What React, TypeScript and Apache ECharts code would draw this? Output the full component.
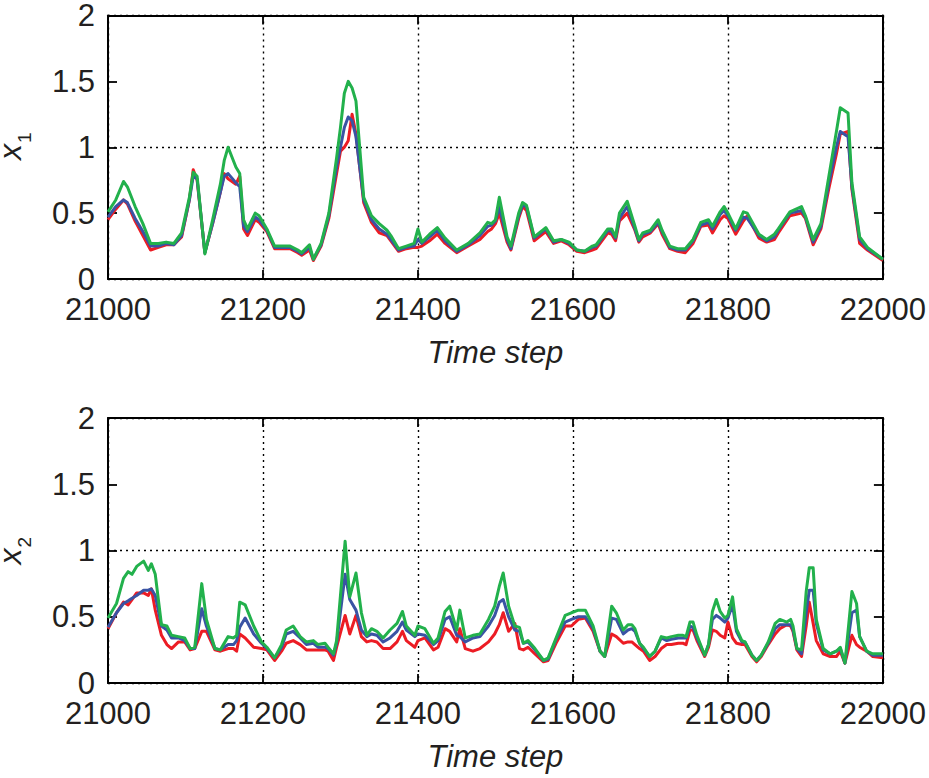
import React, { useEffect, useRef } from "react";
import * as echarts from "echarts";

// ---------- data ----------
const TOP_T = [
  21000, 21010, 21020, 21025, 21035, 21045, 21055, 21065, 21075, 21085,
  21095, 21105, 21110, 21115, 21125, 21135, 21145, 21150, 21155, 21165,
  21170, 21175, 21180, 21190, 21195, 21205, 21215, 21225, 21235, 21245,
  21250, 21260, 21265, 21275, 21285, 21295, 21300, 21305, 21310, 21315,
  21320, 21330, 21340, 21350, 21360, 21365, 21375, 21385, 21395, 21400,
  21405, 21415, 21425, 21435, 21450, 21465, 21480, 21490, 21495, 21500,
  21505, 21515, 21520, 21530, 21535, 21540, 21550, 21565, 21575, 21585,
  21595, 21605, 21615, 21625, 21630, 21645, 21650, 21655, 21660, 21670,
  21680, 21685, 21690, 21700, 21710, 21715, 21725, 21735, 21745, 21755,
  21765, 21775, 21780, 21790, 21795, 21800, 21810, 21820, 21825, 21840,
  21850, 21860, 21865, 21880, 21895, 21900, 21910, 21920, 21930, 21940,
  21945, 21955, 21960, 21970, 21980, 22000,
];
const TOP_GREEN = [
  0.51, 0.6, 0.74, 0.7, 0.55, 0.42, 0.27, 0.27, 0.28, 0.27,
  0.35, 0.62, 0.81, 0.78, 0.19, 0.45, 0.72, 0.9, 1.0, 0.85,
  0.8, 0.45, 0.38, 0.5, 0.48, 0.38, 0.25, 0.25, 0.25, 0.22,
  0.2, 0.26, 0.15, 0.27, 0.5, 0.92, 1.15, 1.41, 1.5, 1.45,
  1.35, 0.62, 0.48, 0.42, 0.37, 0.33, 0.23, 0.25, 0.27, 0.38,
  0.28, 0.34, 0.39, 0.31, 0.22, 0.27, 0.35, 0.43, 0.42, 0.45,
  0.62, 0.32, 0.25, 0.5, 0.58, 0.56, 0.32, 0.39, 0.29, 0.3,
  0.28, 0.22, 0.21, 0.25, 0.26, 0.38, 0.38, 0.32, 0.5, 0.59,
  0.4, 0.3, 0.35, 0.37, 0.45, 0.37, 0.25, 0.23, 0.23, 0.3,
  0.43, 0.45, 0.4, 0.51, 0.55, 0.5, 0.38, 0.51, 0.5, 0.34,
  0.3, 0.34, 0.38, 0.51, 0.55, 0.48, 0.3, 0.42, 0.77, 1.12,
  1.3, 1.26, 0.73, 0.32, 0.24, 0.15,
];
const TOP_BLUE = [
  0.47, 0.55, 0.6, 0.58, 0.46, 0.36, 0.25, 0.25, 0.27, 0.26,
  0.33, 0.6, 0.78, 0.76, 0.2, 0.42, 0.66, 0.78, 0.8, 0.73,
  0.7, 0.4, 0.36, 0.47, 0.45, 0.37, 0.24, 0.24, 0.24, 0.21,
  0.19, 0.24, 0.15, 0.26, 0.48, 0.85, 1.0, 1.15, 1.23, 1.2,
  1.08, 0.6, 0.45, 0.38, 0.34, 0.3, 0.22, 0.24, 0.25, 0.3,
  0.27, 0.32, 0.37, 0.29, 0.21, 0.26, 0.33, 0.4, 0.41, 0.44,
  0.55, 0.3, 0.23, 0.48, 0.56, 0.55, 0.31, 0.38, 0.28, 0.3,
  0.27, 0.22, 0.21, 0.24, 0.25, 0.37, 0.36, 0.31, 0.46, 0.55,
  0.38, 0.29, 0.34, 0.36, 0.43, 0.36, 0.24, 0.22, 0.22, 0.29,
  0.41, 0.43, 0.38, 0.49, 0.52, 0.48, 0.37, 0.47, 0.46, 0.33,
  0.29, 0.32, 0.37, 0.5, 0.52, 0.47, 0.28, 0.4, 0.72, 1.0,
  1.12, 1.08, 0.7, 0.3, 0.23, 0.15,
];
const TOP_RED = [
  0.45, 0.53, 0.6, 0.57, 0.44, 0.33, 0.22, 0.24, 0.26, 0.26,
  0.32, 0.6, 0.83, 0.75, 0.2, 0.42, 0.66, 0.8, 0.76, 0.72,
  0.78, 0.38, 0.33, 0.45, 0.43, 0.36, 0.23, 0.23, 0.23, 0.2,
  0.18, 0.22, 0.14, 0.25, 0.46, 0.8, 0.97, 1.0, 1.05, 1.25,
  1.1, 0.58, 0.43, 0.35, 0.33, 0.29, 0.21, 0.23, 0.24, 0.24,
  0.25, 0.29, 0.34, 0.27, 0.2, 0.25, 0.3, 0.36, 0.38, 0.42,
  0.5, 0.28, 0.22, 0.46, 0.55, 0.52, 0.29, 0.36, 0.27, 0.29,
  0.26, 0.21, 0.2, 0.22, 0.23, 0.35, 0.34, 0.29, 0.44, 0.5,
  0.37, 0.28, 0.32, 0.35, 0.42, 0.34, 0.23, 0.21, 0.2, 0.27,
  0.4, 0.41, 0.35, 0.45, 0.48, 0.46, 0.34, 0.44, 0.48, 0.31,
  0.28, 0.3, 0.35, 0.48, 0.5, 0.46, 0.26, 0.38, 0.68, 0.95,
  1.1, 1.12, 0.68, 0.27, 0.22, 0.14,
];

const BOT_T = [
  21000, 21011, 21020, 21026, 21031, 21037, 21046, 21052, 21056, 21061,
  21069, 21076, 21082, 21091, 21099, 21106, 21112, 21121, 21127, 21138,
  21145, 21155, 21162, 21166, 21170, 21177, 21188, 21198, 21205, 21215,
  21224, 21230, 21239, 21248, 21256, 21265, 21271, 21280, 21284, 21291,
  21295, 21306, 21312, 21320, 21327, 21334, 21340, 21347, 21355, 21364,
  21373, 21380, 21385, 21396, 21400, 21409, 21420, 21426, 21435, 21441,
  21450, 21454, 21461, 21471, 21480, 21491, 21499, 21505, 21510, 21517,
  21525, 21531, 21536, 21542, 21551, 21562, 21568, 21579, 21590, 21598,
  21607, 21616, 21626, 21635, 21641, 21650, 21656, 21665, 21671, 21676,
  21680, 21686, 21691, 21699, 21706, 21714, 21721, 21727, 21736, 21742,
  21746, 21751, 21755, 21760, 21770, 21775, 21780, 21785, 21790, 21796,
  21800, 21806, 21811, 21818, 21822, 21831, 21837, 21843, 21852, 21861,
  21867, 21876, 21881, 21884, 21889, 21895, 21901, 21905, 21910, 21914,
  21923, 21932, 21940, 21945, 21951, 21960, 21966, 21970, 21979, 21987,
  22000,
];
const BOT_GREEN = [
  0.49, 0.6, 0.79, 0.84, 0.82, 0.88, 0.92, 0.85, 0.9, 0.82,
  0.44, 0.43, 0.36, 0.35, 0.34, 0.26, 0.27, 0.75, 0.48, 0.26,
  0.25, 0.35, 0.34, 0.36, 0.61, 0.59, 0.43, 0.31, 0.27, 0.19,
  0.29, 0.4, 0.43, 0.35, 0.31, 0.32, 0.29, 0.3, 0.27, 0.22,
  0.32, 1.07, 0.65, 0.83, 0.53, 0.36, 0.41, 0.39, 0.34, 0.4,
  0.45, 0.54, 0.43, 0.36, 0.43, 0.41, 0.3, 0.34, 0.54, 0.58,
  0.4, 0.55, 0.34, 0.36, 0.37, 0.48, 0.58, 0.73, 0.83, 0.58,
  0.43, 0.42, 0.3, 0.32, 0.26, 0.17, 0.19, 0.35, 0.51, 0.53,
  0.55, 0.55, 0.43, 0.24, 0.2, 0.58, 0.53, 0.4, 0.44, 0.44,
  0.41, 0.3, 0.27, 0.2, 0.24, 0.35, 0.34, 0.35, 0.36, 0.36,
  0.35, 0.46, 0.46, 0.36, 0.21, 0.29, 0.54, 0.63, 0.54, 0.49,
  0.51, 0.65, 0.41, 0.32, 0.31, 0.21, 0.17, 0.21, 0.31, 0.45,
  0.48, 0.46, 0.48, 0.43, 0.26, 0.25, 0.69, 0.87, 0.87, 0.48,
  0.26, 0.22, 0.24, 0.27, 0.15, 0.69, 0.6, 0.35, 0.24, 0.22,
  0.22,
];
const BOT_BLUE = [
  0.42, 0.53, 0.6, 0.62, 0.64, 0.66, 0.7, 0.7, 0.71, 0.66,
  0.43, 0.4, 0.34, 0.34, 0.32, 0.26, 0.26, 0.56, 0.43, 0.26,
  0.25, 0.29, 0.29, 0.32, 0.42, 0.49, 0.37, 0.3, 0.26, 0.19,
  0.27, 0.37, 0.39, 0.34, 0.29, 0.3, 0.27, 0.27, 0.26, 0.21,
  0.3, 0.82, 0.63, 0.55, 0.4, 0.35, 0.37, 0.36, 0.31, 0.34,
  0.39, 0.46, 0.4, 0.35, 0.37, 0.36, 0.29, 0.32, 0.48, 0.5,
  0.36, 0.35, 0.31, 0.34, 0.35, 0.43, 0.51, 0.61, 0.63, 0.5,
  0.4, 0.39, 0.3, 0.31, 0.25, 0.17, 0.18, 0.34, 0.46, 0.48,
  0.5, 0.5, 0.41, 0.24, 0.2, 0.49, 0.48, 0.37, 0.4, 0.41,
  0.39, 0.3, 0.26, 0.2, 0.24, 0.34, 0.32, 0.33, 0.34, 0.34,
  0.34, 0.43, 0.42, 0.34, 0.21, 0.29, 0.48, 0.51, 0.49, 0.46,
  0.49, 0.59, 0.39, 0.31, 0.31, 0.21, 0.17, 0.21, 0.3, 0.41,
  0.44, 0.44, 0.44, 0.4, 0.26, 0.22, 0.53, 0.7, 0.7, 0.45,
  0.25, 0.22, 0.24, 0.26, 0.15, 0.53, 0.55, 0.35, 0.24, 0.21,
  0.21,
];
const BOT_RED = [
  0.41, 0.53, 0.61, 0.59, 0.63, 0.68, 0.68, 0.66, 0.71, 0.55,
  0.36, 0.29, 0.26, 0.31, 0.31, 0.25, 0.26, 0.39, 0.39, 0.25,
  0.24, 0.26, 0.26, 0.24, 0.37, 0.34, 0.27, 0.26, 0.25, 0.17,
  0.24, 0.3, 0.32, 0.29, 0.25, 0.25, 0.25, 0.25, 0.24, 0.17,
  0.27, 0.51, 0.37, 0.51, 0.35, 0.31, 0.32, 0.31, 0.26, 0.26,
  0.31, 0.39, 0.32, 0.27, 0.32, 0.34, 0.25, 0.27, 0.41, 0.39,
  0.31, 0.41, 0.26, 0.24, 0.26, 0.31, 0.37, 0.44, 0.53, 0.39,
  0.45, 0.26, 0.25, 0.27, 0.22, 0.16, 0.17, 0.31, 0.43, 0.43,
  0.48, 0.49, 0.39, 0.24, 0.2, 0.37, 0.35, 0.3, 0.31, 0.31,
  0.29, 0.26, 0.24, 0.17, 0.2, 0.26, 0.29, 0.29, 0.3, 0.3,
  0.29, 0.4, 0.4, 0.32, 0.2, 0.27, 0.4, 0.39, 0.36, 0.34,
  0.46, 0.34, 0.3, 0.29, 0.29, 0.2, 0.16, 0.2, 0.29, 0.37,
  0.41, 0.44, 0.43, 0.39, 0.25, 0.2, 0.43, 0.61, 0.45, 0.32,
  0.22, 0.2, 0.2, 0.24, 0.15, 0.36, 0.29, 0.27, 0.24, 0.2,
  0.19,
];

const X_MIN = 21000;
const X_MAX = 22000;
const X_STEP = 200;
const Y_MIN = 0;
const Y_MAX = 2;
const Y_STEP = 0.5;
const Y_NAMES = ["1", "2"];

// ---------- styling ----------
const FONT = '"Liberation Sans", Arial, Helvetica, sans-serif';
const INK = "#231f20";
const RED = "#ec1c24";
const BLUE = "#3a53a4";
const GREEN = "#22b14c";
const GRIDS = [
  { left: 108, top: 13, width: 775, height: 266 },
  { left: 108, top: 418, width: 775, height: 265 },
];

function pairs(t: number[], v: number[]) {
  return t.map((x, i) => [x, v[i] ?? null]);
}

export default function App() {
  const ref = useRef<HTMLDivElement>(null);
  useEffect(() => {
    if (!ref.current) return;
    const chart = echarts.init(ref.current, undefined, { renderer: "svg" });

    const frameLine = { show: true, onZero: false, lineStyle: { color: "#000", width: 2 } };
    const tick = { show: true, inside: true, length: 9, lineStyle: { color: "#000", width: 1.8 } };
    const dotted = { show: true, lineStyle: { color: "#000", width: 1.4, type: [2, 4] } };
    const labelStyle = { color: INK, fontSize: 31, fontFamily: FONT, lineHeight: 24 };

    const xAxis: any[] = [];
    const yAxis: any[] = [];
    GRIDS.forEach((_, g) => {
      xAxis.push({
        gridIndex: g, type: "value", min: X_MIN, max: X_MAX, interval: X_STEP, position: "bottom",
        axisLine: frameLine, axisTick: tick,
        axisLabel: { ...labelStyle, margin: 18, formatter: (v: number) => String(v) },
        splitLine: dotted,
        name: "Time step", nameLocation: "middle", nameGap: 58,
        nameTextStyle: { color: INK, fontSize: 31, fontStyle: "italic", fontFamily: FONT },
      });
      xAxis.push({
        gridIndex: g, type: "value", min: X_MIN, max: X_MAX, interval: X_STEP, position: "top",
        axisLine: frameLine, axisTick: tick, axisLabel: { show: false }, splitLine: { show: false },
      });
      yAxis.push({
        gridIndex: g, type: "value", min: Y_MIN, max: Y_MAX, interval: Y_STEP, position: "left",
        axisLine: frameLine, axisTick: tick,
        axisLabel: { ...labelStyle, margin: 13 },
        splitLine: { show: false },
      });
      yAxis.push({
        gridIndex: g, type: "value", min: Y_MIN, max: Y_MAX, interval: Y_STEP, position: "right",
        axisLine: frameLine, axisTick: tick, axisLabel: { show: false }, splitLine: { show: false },
      });
      yAxis.push({
        gridIndex: g, type: "value", min: Y_MIN, max: Y_MAX, interval: 1, position: "left",
        axisLine: { show: false }, axisTick: { show: false }, axisLabel: { show: false },
        splitLine: dotted,
      });
    });

    const mk = (g: number, t: number[], v: number[], color: string) => ({
      type: "line",
      xAxisIndex: g * 2,
      yAxisIndex: g * 3,
      data: pairs(t, v),
      showSymbol: false,
      symbol: "none",
      lineStyle: { color, width: 3, join: "round" },
      itemStyle: { color },
      z: 3,
    });

    const series = [
      mk(0, TOP_T, TOP_RED, RED),
      mk(0, TOP_T, TOP_BLUE, BLUE),
      mk(0, TOP_T, TOP_GREEN, GREEN),
      mk(1, BOT_T, BOT_RED, RED),
      mk(1, BOT_T, BOT_BLUE, BLUE),
      mk(1, BOT_T, BOT_GREEN, GREEN),
    ];

    const graphic = GRIDS.map((gr, g) => ({
      type: "group",
      x: 16,
      y: gr.top + gr.height / 2,
      rotation: Math.PI / 2,
      children: [
        {
          type: "text",
          x: -14,
          y: -6,
          style: {
            text: "x", fill: INK, font: `italic 32px ${FONT}`, lineHeight: 18,
            textAlign: "left", textVerticalAlign: "middle",
          },
        },
        {
          type: "text",
          x: 3,
          y: 8,
          style: {
            text: Y_NAMES[g], fill: INK, font: `19px ${FONT}`, lineHeight: 14,
            textAlign: "left", textVerticalAlign: "middle",
          },
        },
      ],
    }));

    chart.setOption({
      animation: false,
      backgroundColor: "#fff",
      grid: GRIDS.map((g) => ({ ...g, containLabel: false })),
      xAxis,
      yAxis,
      series,
      graphic,
    });
    return () => chart.dispose();
  }, []);

  return (
    <div
      ref={ref}
      style={{ position: "fixed", left: 0, top: 0, width: 929, height: 778, background: "#fff" }}
    />
  );
}
